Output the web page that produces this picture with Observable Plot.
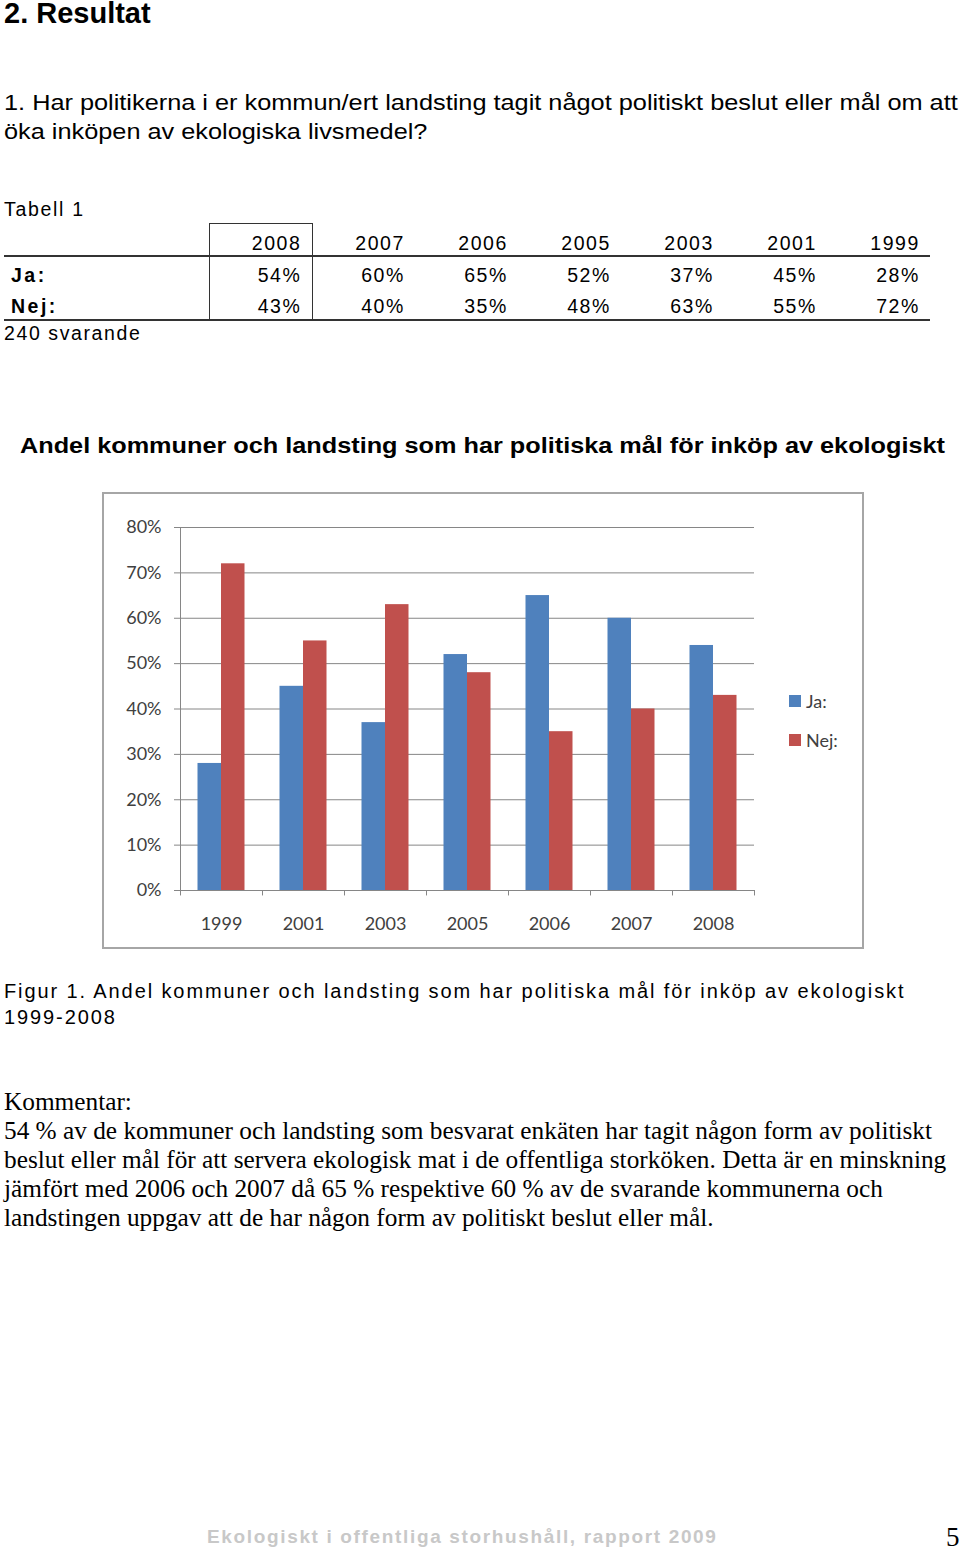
<!DOCTYPE html>
<html><head><meta charset="utf-8">
<script src="https://cdn.jsdelivr.net/npm/d3@7"></script>
<script src="https://cdn.jsdelivr.net/npm/@observablehq/plot@0.6"></script>
<style>
html,body{margin:0;padding:0;background:#fff;}
body{width:960px;height:1551px;position:relative;overflow:hidden;color:#000;}
.abs{position:absolute;white-space:nowrap;}
.sans{font-family:"Liberation Sans",Arial,sans-serif;}
.serif{font-family:"Liberation Serif","Times New Roman",serif;}
#h1{left:4px;top:-3px;font-size:29px;font-weight:bold;}
#q{left:4px;top:88px;font-size:21.6px;line-height:29px;transform:scaleX(1.172);transform-origin:0 0;}
#tab{left:4px;top:198px;font-size:19.5px;letter-spacing:1.7px;}
table{border-collapse:collapse;position:absolute;left:4px;top:223px;font-family:"Liberation Sans",Arial,sans-serif;font-size:19.5px;letter-spacing:1.6px;}
td{padding:0 10px 1px 0;height:32px;text-align:right;white-space:nowrap;vertical-align:bottom;box-sizing:border-box;}
td.lab{text-align:left;width:205px;padding-left:7px;font-weight:bold;letter-spacing:2.5px;}
td.c{width:103px;}
tr.head td{border-bottom:2px solid #333;padding-bottom:0px;}
tr.last td{border-bottom:2px solid #333;}
td.box{border-left:1.5px solid #333;border-right:1.5px solid #333;}
tr.head td.box{border-top:1.5px solid #333;}
#resp{left:4px;top:322px;font-size:19.5px;letter-spacing:1.6px;}
#ct{left:20px;top:433px;font-size:22.6px;font-weight:bold;transform:scaleX(1.118);transform-origin:0 0;}
#fig{position:absolute;left:102px;top:492px;width:758px;height:453px;border:2px solid #a6a6a6;}
#legend{left:789px;top:681px;font-family:Lato,sans-serif;font-size:18px;color:#404040;}
#legend div{height:39px;display:flex;align-items:center;}
#legend span.sw{display:inline-block;width:12px;height:12px;margin-right:5px;}
#cap{left:4px;top:978px;font-family:"Liberation Sans",sans-serif;font-size:20px;letter-spacing:1.9px;line-height:26px;}
#kom{left:4px;top:1087px;font-size:25.3px;line-height:29px;}
#foot{left:207px;top:1526px;font-size:19px;font-weight:bold;color:#c8c8c8;letter-spacing:1.65px;}
#pg{left:946px;top:1522px;font-size:27px;}
</style></head><body>
<div id="h1" class="abs sans">2. Resultat</div>
<div id="q" class="abs sans">1. Har politikerna i er kommun/ert landsting tagit något politiskt beslut eller mål om att<br>öka inköpen av ekologiska livsmedel?</div>
<div id="tab" class="abs sans">Tabell 1</div>
<table id="tbl"></table>
<div id="resp" class="abs sans"></div>
<div id="ct" class="abs sans">Andel kommuner och landsting som har politiska mål för inköp av ekologiskt</div>
<div id="fig"></div>
<div id="legend" class="abs"></div>
<div id="cap" class="abs">Figur 1. Andel kommuner och landsting som har politiska mål för inköp av ekologiskt<br>1999-2008</div>
<div id="kom" class="abs serif">Kommentar:<br>54 % av de kommuner och landsting som besvarat enkäten har tagit någon form av politiskt<br>beslut eller mål för att servera ekologisk mat i de offentliga storköken. Detta är en minskning<br>jämfört med 2006 och 2007 då 65 % respektive 60 % av de svarande kommunerna och<br>landstingen uppgav att de har någon form av politiskt beslut eller mål.</div>
<div id="foot" class="abs sans">Ekologiskt i offentliga storhushåll, rapport 2009</div>
<div id="pg" class="abs serif">5</div>
<script>
// ---- data ----
const years = ["1999", "2001", "2003", "2005", "2006", "2007", "2008"];
const ja = [28, 45, 37, 52, 65, 60, 54];
const nej = [72, 55, 63, 48, 35, 40, 43];
const series = ["Ja:", "Nej:"];
const seriesColors = ["#4F81BD", "#C0504D"];
const yTicks = [0, 10, 20, 30, 40, 50, 60, 70, 80];
const tableYears = ["2008", "2007", "2006", "2005", "2003", "2001", "1999"];
const respondents = "240 svarande";

// ---- table (built from the same arrays) ----
const tbl = document.getElementById("tbl");
const idx = y => years.indexOf(y);
function row(cls, label, cells) {
  const tr = document.createElement("tr");
  if (cls) tr.className = cls;
  const l = document.createElement("td"); l.className = "lab"; l.textContent = label; tr.appendChild(l);
  cells.forEach((c, i) => {
    const td = document.createElement("td");
    td.className = "c" + (i === 0 ? " box" : "");
    td.textContent = c; tr.appendChild(td);
  });
  tbl.appendChild(tr);
}
row("head", "", tableYears);
row("", series[0], tableYears.map(y => ja[idx(y)] + "%"));
row("last", series[1], tableYears.map(y => nej[idx(y)] + "%"));
document.getElementById("resp").textContent = respondents;

// ---- chart ----
const data = years.flatMap((y, i) => [
  {year: y, series: series[0], value: ja[i]},
  {year: y, series: series[1], value: nej[i]}
]);
const grid = "#868686";
const chart = Plot.plot({
  width: 758, height: 453,
  marginLeft: 76, marginRight: 108, marginTop: 33, marginBottom: 57,
  style: {fontFamily: "Lato, sans-serif", fontSize: "18px", color: "#404040", background: "transparent", overflow: "visible"},
  x: {domain: years, padding: 0},
  y: {domain: [0, 80]},
  color: {domain: series, range: seriesColors},
  marks: [
    Plot.gridY(yTicks, {stroke: grid, strokeOpacity: 1, strokeWidth: 1}),
    Plot.axisY({ticks: yTicks, tickFormat: d => d + "%", tickSize: 6, tickPadding: 13, stroke: grid, label: null}),
    Plot.ruleX(years, {x: d => d, y1: 0, y2: -1.2, dx: -41, stroke: grid}),
    Plot.ruleX(years.slice(-1), {x: d => d, y1: 0, y2: -1.2, dx: 41, stroke: grid}),
    Plot.ruleX([years[0]], {x: d => d, y1: 0, y2: 80, dx: -41, stroke: grid}),
    Plot.barY(data.filter(d => d.series === series[0]), {x: "year", y: "value", fill: "series", insetLeft: 17.5, insetRight: 41}),
    Plot.barY(data.filter(d => d.series === series[1]), {x: "year", y: "value", fill: "series", insetLeft: 41, insetRight: 17.5}),
    Plot.axisX({tickSize: 0, tickPadding: 27, label: null})
  ]
});
document.getElementById("fig").appendChild(chart);

// legend
const lg = document.getElementById("legend");
series.forEach((s, i) => {
  const d = document.createElement("div");
  d.innerHTML = `<span class="sw" style="background:${seriesColors[i]}"></span>${s}`;
  lg.appendChild(d);
});
</script>
</body></html>
